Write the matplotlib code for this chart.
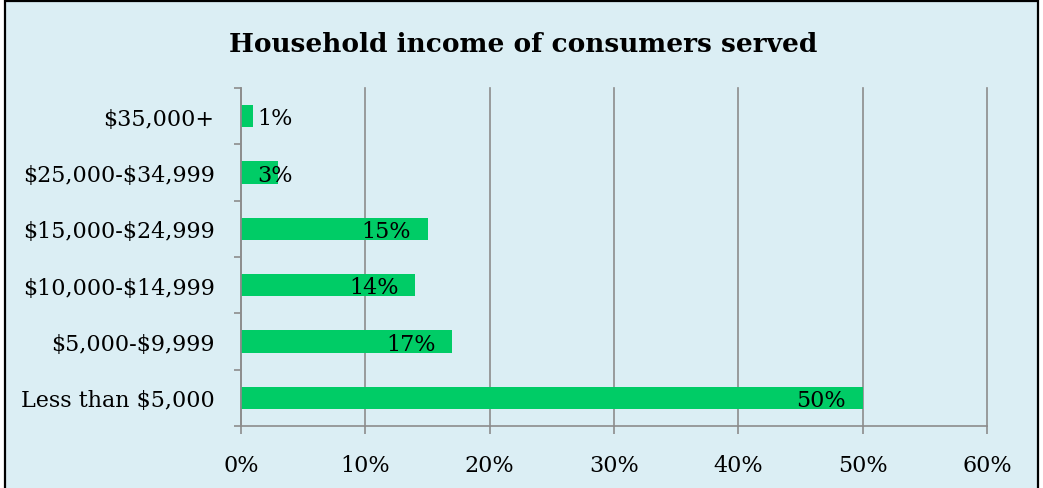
import matplotlib.pyplot as plt
from matplotlib.patches import Rectangle
import numpy as np

categories = ['Less than $5,000', '$5,000-$9,999', '$10,000-$14,999',
              '$15,000-$24,999', '$25,000-$34,999', '$35,000+']
shares = [50, 17, 14, 15, 3, 1]
x_ticks = [0, 10, 20, 30, 40, 50, 60]
title = 'Household income of consumers served'

bar_color = '#00CC66'
bg_color = '#DBEEF4'
grid_color = '#8C8C8C'
font = 'DejaVu Serif'
plt.rcParams['text.parse_math'] = False

fig = plt.figure(figsize=(10.43, 4.89), dpi=100, facecolor='white')
fig.patches.append(Rectangle((5 / 1043, -0.02), 1033 / 1043, 1.02 - 2 / 489,
                             transform=fig.transFigure, facecolor=bg_color,
                             edgecolor='black', linewidth=1.6, zorder=-1))

ax = fig.add_axes([241 / 1043, 1 - 427 / 489, 746 / 1043, 338 / 489])
ax.set_facecolor('none')

y = np.arange(len(categories))
ax.barh(y, shares, height=0.4, color=bar_color, zorder=3)

ax.set_xlim(0, 60)
ax.set_ylim(-0.5, len(categories) - 0.5)
ax.set_xticks(x_ticks)
ax.set_xticklabels([f'{t}%' for t in x_ticks], fontname=font, fontsize=16)
ax.set_yticks(y)
ax.set_yticklabels(categories, fontname=font, fontsize=16)
ax.set_yticks(np.arange(-0.5, len(categories)), minor=True)

ax.tick_params(axis='y', which='major', length=0, pad=19)
ax.tick_params(axis='y', which='minor', length=5, width=1.2, color=grid_color)
ax.tick_params(axis='x', length=6, width=1.2, color=grid_color, pad=14)

ax.grid(axis='x', color=grid_color, linewidth=1.2, zorder=1)
for gl in ax.get_xgridlines():
    gl.set_clip_on(False)
for side in ['top', 'right']:
    ax.spines[side].set_visible(False)
for side in ['left', 'bottom']:
    ax.spines[side].set_color(grid_color)
    ax.spines[side].set_linewidth(1.2)
    ax.spines[side].set_zorder(4)

for yi, v in zip(y, shares):
    if v < 5:
        ax.annotate(f'{v}%', (0, yi), xytext=(12, -1.5), textcoords='offset points',
                    ha='left', va='center', fontname=font, fontsize=16, zorder=5)
    else:
        ax.annotate(f'{v}%', (v, yi), xytext=(-12, -1.5), textcoords='offset points',
                    ha='right', va='center', fontname=font, fontsize=16, zorder=5)

fig.text(0.502, 1 - 45 / 489, title, ha='center', va='center',
         fontname=font, fontsize=19, fontweight='bold')

fig.savefig('out.png', dpi=100, facecolor='white')
